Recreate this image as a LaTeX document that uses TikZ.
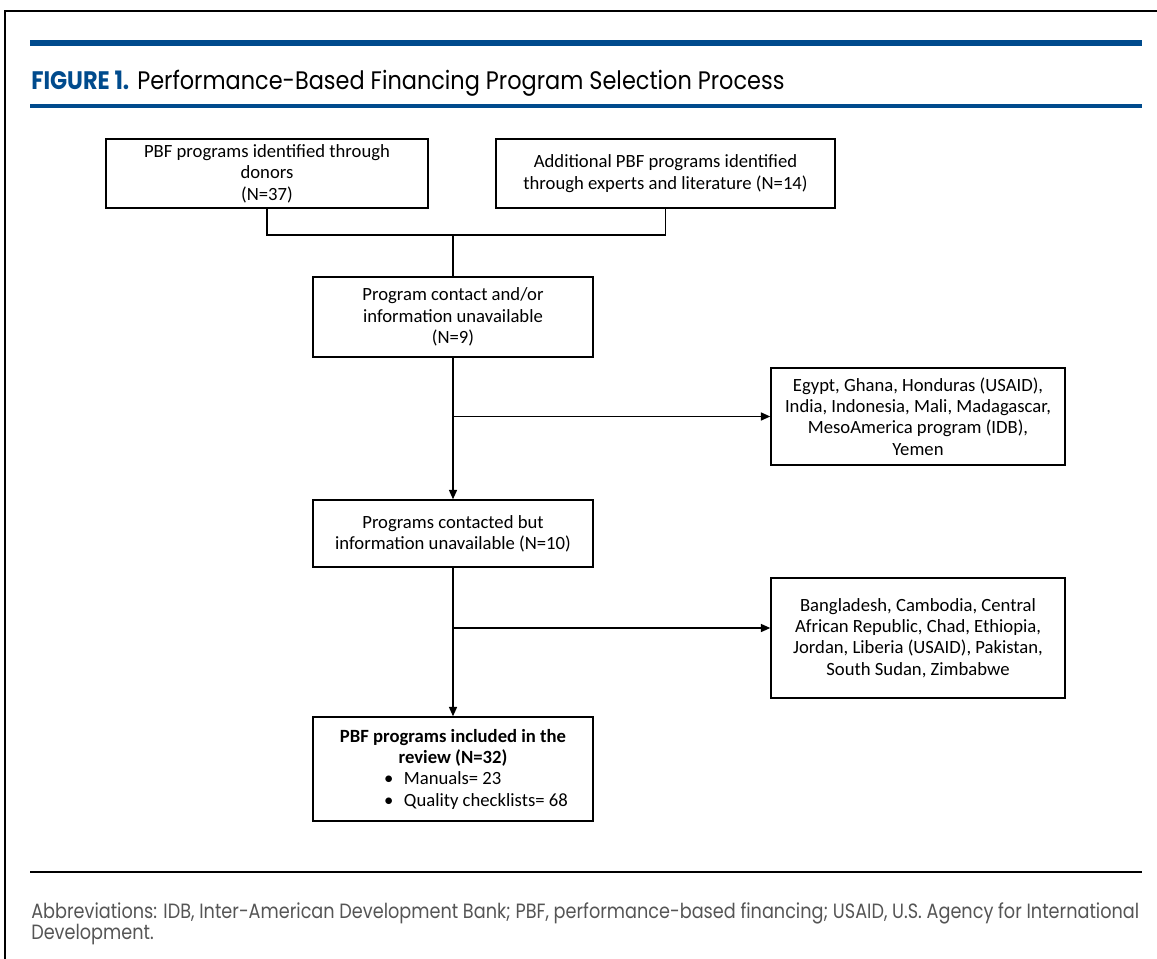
\documentclass[tikz,border=0pt]{standalone}
\usepackage{fontspec}
\setmainfont{Carlito}
\newfontfamily\capfont[FakeStretch=0.885]{Poppins}
\newfontfamily\notefont[FakeStretch=0.855]{Poppins}
\usetikzlibrary{arrows.meta}
\definecolor{figblue}{RGB}{0,75,141}
\definecolor{notegray}{RGB}{85,85,85}
\newcommand\px[1]{#1*0.75pt}
\tikzset{
	flowbox/.style={draw, line width=1.1pt, align=center, inner sep=0pt, font=\fontsize{14}{16}\selectfont},
	link/.style={line width=1.1pt},
	arrowlink/.style={line width=1.1pt, -{Triangle[length=7pt,width=6pt]}}
}

\begin{document}
\begin{tikzpicture}[x=0.75pt, y=-0.75pt]
	\useasboundingbox (0,0) rectangle (1157,959);
	% frame and rules
	\draw [line width=1.5pt] (5,959) -- (5,11) -- (1157,11);
	\draw [figblue, line width=4.5pt] (30,43.5) -- (1142,43.5);
	\draw [figblue, line width=2.7pt] (30,106) -- (1142,106);
	\draw [line width=2.2pt] (30,872) -- (1142,872);
	\node [anchor=base west, inner sep=0pt, font=\capfont\fontsize{19}{22}\selectfont] (title) at (31,90) {\textcolor{figblue}{\bfseries FIGURE 1.} Performance-Based Financing Program Selection Process};

	% boxes
	\node [flowbox, minimum width=\px{322}, minimum height=\px{69}] (donors) at (267,173.5) {PBF programs identified through\\donors\\(N=37)};
	\node [flowbox, minimum width=\px{339}, minimum height=\px{69}] (extra) at (665.5,173.5) {Additional PBF programs identified\\through experts and literature (N=14)};
	\node [flowbox, minimum width=\px{280}, minimum height=\px{80}] (contact) at (453,317) {Program contact and/or\\information unavailable\\(N=9)};
	\node [flowbox, minimum width=\px{294}, minimum height=\px{97}] (gone) at (918,416.5) {Egypt, Ghana, Honduras (USAID),\\India, Indonesia, Mali, Madagascar,\\MesoAmerica program (IDB),\\Yemen};
	\node [flowbox, minimum width=\px{280}, minimum height=\px{67}] (noinfo) at (453,533.5) {Programs contacted but\\information unavailable (N=10)};
	\node [flowbox, minimum width=\px{294}, minimum height=\px{120}] (noinfolist) at (918,638) {Bangladesh, Cambodia, Central\\African Republic, Chad, Ethiopia,\\Jordan, Liberia (USAID), Pakistan,\\South Sudan, Zimbabwe};
	\node [flowbox, minimum width=\px{280}, minimum height=\px{104}] (included) at (453,769) {\textbf{PBF programs included in the}\\\textbf{review (N=32)}\\\makebox[103.5pt][l]{\textbullet\hspace{8pt}Manuals= 23}\\\makebox[103.5pt][l]{\textbullet\hspace{8pt}Quality checklists= 68}};

	% connectors
	\coordinate (jn) at (453,235);
	\coordinate (listin) at ([yshift=7.5pt]noinfolist.west);
	\draw [link] (donors.south) |- (jn);
	\draw [link] (extra.south) |- (jn);
	\draw [link] (jn) -- (contact.north);
	\draw [arrowlink] (contact.south) -- (noinfo.north);
	\draw [arrowlink] (contact.south |- gone.west) -- (gone.west);
	\draw [arrowlink] (noinfo.south) -- (included.north);
	\draw [arrowlink] (noinfo.south |- listin) -- (listin);

	\node [anchor=base west, align=left, inner sep=0pt, text=notegray, font=\notefont\fontsize{15.5}{15.75}\selectfont] (abbrev) at (31,939) {Abbreviations: IDB, Inter-American Development Bank; PBF, performance-based financing; USAID, U.S. Agency for International\\Development.};
\end{tikzpicture}
\end{document}
